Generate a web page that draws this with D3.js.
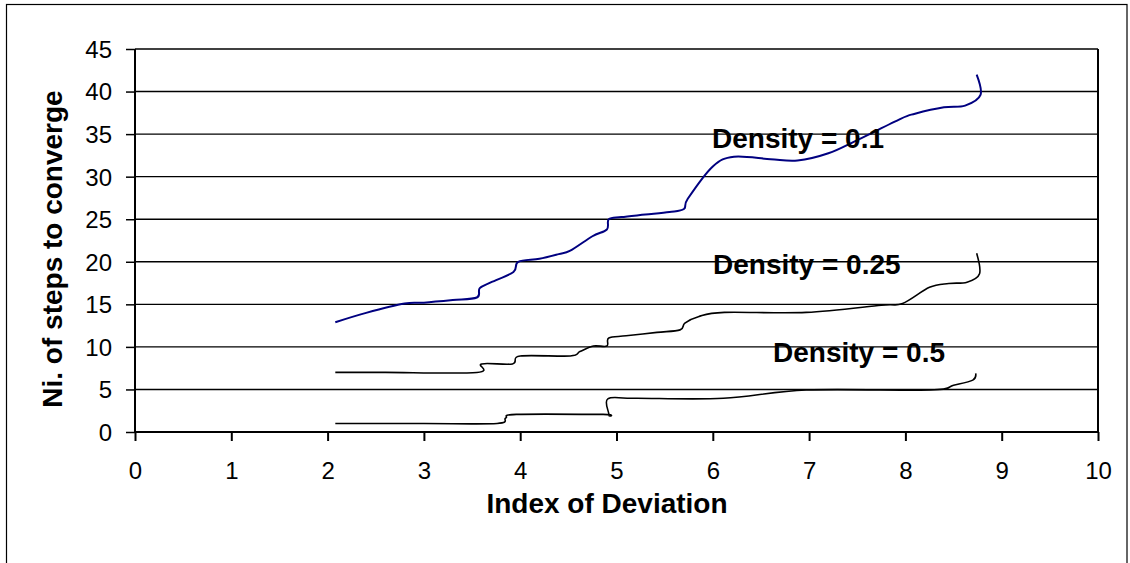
<!DOCTYPE html>
<html>
<head>
<meta charset="utf-8">
<script src="https://cdn.jsdelivr.net/npm/d3@7"></script>
<style>
  html, body { margin: 0; padding: 0; background: #fff; }
  svg { display: block; }
  text { font-family: "Liberation Sans", Arial, sans-serif; fill: #000; }
</style>
</head>
<body>
<svg id="chart" width="1130" height="563"></svg>
<script>
// ---- data ----
const xTicks = [0, 1, 2, 3, 4, 5, 6, 7, 8, 9, 10];
const yTicks = [0, 5, 10, 15, 20, 25, 30, 35, 40, 45];
const xTitle = "Index of Deviation";
const yTitle = "Ni. of steps to converge";
const seriesNames = ["Density = 0.1", "Density = 0.25", "Density = 0.5"];

const density01 = [
  [2.08, 12.9], [2.4, 14.0], [2.8, 15.1], [3.0, 15.2], [3.3, 15.5], [3.55, 15.8],
  [3.58, 16.9], [3.7, 17.6], [3.93, 18.8], [3.98, 20.0], [4.2, 20.35], [4.4, 20.9],
  [4.52, 21.3], [4.75, 23.0], [4.9, 23.8], [4.92, 25.0], [5.05, 25.25], [5.3, 25.55],
  [5.55, 25.85], [5.7, 26.2], [5.74, 27.4], [6.0, 31.2], [6.22, 32.35], [6.6, 32.05],
  [6.88, 31.9], [7.2, 32.75], [7.5, 34.3], [7.95, 36.8], [8.1, 37.4], [8.4, 38.15],
  [8.62, 38.35], [8.78, 39.6], [8.74, 42.0]
];
const density025 = [
  [2.08, 7.0], [2.6, 7.0], [3.55, 7.0], [3.6, 8.0], [3.92, 8.0], [4.0, 8.93],
  [4.52, 8.93], [4.62, 9.45], [4.76, 10.1], [4.9, 10.1], [4.92, 11.05], [5.1, 11.3],
  [5.42, 11.7], [5.66, 12.0], [5.71, 12.8], [5.85, 13.55], [6.12, 14.05], [6.97, 14.05],
  [7.75, 14.9], [7.97, 15.1], [8.25, 17.0], [8.45, 17.45], [8.64, 17.6], [8.77, 18.6],
  [8.74, 21.0]
];
const density05 = [
  [2.08, 1.0], [3.0, 1.0], [3.76, 1.0], [3.85, 1.65], [3.96, 2.07], [4.86, 2.07],
  [4.92, 2.0], [4.91, 3.9], [5.2, 3.96], [6.11, 3.96], [6.97, 4.93], [8.26, 4.93],
  [8.5, 5.5], [8.7, 6.1], [8.73, 6.9]
];

const labelPos = [[712, 148], [713, 274], [773, 362]]; // label anchor pixels (left, baseline)

// ---- layout ----
const svg = d3.select("#chart");
const plot = { left: 135, right: 1098, top: 49, bottom: 432 };

const x = d3.scaleLinear().domain([0, 10]).range([plot.left, plot.right]);
const y = d3.scaleLinear().domain([0, 45]).range([plot.bottom, plot.top]);

// outer frame
svg.append("rect")
  .attr("x", 6.5).attr("y", 4.5)
  .attr("width", 1127 - 6.5).attr("height", 570)
  .attr("fill", "none").attr("stroke", "#000").attr("stroke-width", 1.2);

// gridlines
svg.append("g").selectAll("line").data(yTicks).join("line")
  .attr("x1", plot.left).attr("x2", plot.right)
  .attr("y1", d => y(d)).attr("y2", d => y(d))
  .attr("stroke", "#000").attr("stroke-width", 1.4);

// plot area right border
svg.append("line")
  .attr("x1", plot.right).attr("x2", plot.right)
  .attr("y1", plot.top).attr("y2", plot.bottom)
  .attr("stroke", "#000").attr("stroke-width", 2);

// axes
const xAxis = d3.axisBottom(x).tickValues(xTicks).tickSize(9).tickPadding(22).tickFormat(d3.format("d"));
const gx = svg.append("g").attr("transform", `translate(0,${plot.bottom})`).call(xAxis);
gx.select(".domain").attr("stroke", "#000").attr("stroke-width", 2).attr("d", `M${plot.left},0H${plot.right}`);
gx.selectAll(".tick line").attr("stroke", "#000").attr("stroke-width", 2);
gx.selectAll(".tick text").attr("font-size", 24).attr("font-family", "Liberation Sans, Arial, sans-serif")
  .attr("dy", null).attr("y", 47).attr("fill", "#000");

const yAxis = d3.axisLeft(y).tickValues(yTicks).tickSize(9).tickPadding(14).tickFormat(d3.format("d"));
const gy = svg.append("g").attr("transform", `translate(${plot.left},0)`).call(yAxis);
gy.select(".domain").attr("stroke", "#000").attr("stroke-width", 2).attr("d", `M0,${plot.top}V${plot.bottom}`);
gy.selectAll(".tick line").attr("stroke", "#000").attr("stroke-width", 1.5);
gy.selectAll(".tick text").attr("font-size", 24).attr("font-family", "Liberation Sans, Arial, sans-serif")
  .attr("dy", "0.35em").attr("fill", "#000");

// series lines
const line = d3.line().x(d => x(d[0])).y(d => y(d[1])).curve(d3.curveCatmullRom.alpha(0));
const series = [
  { data: density01, color: "#000080", width: 2 },
  { data: density025, color: "#000000", width: 1.6 },
  { data: density05, color: "#000000", width: 1.6 }
];
svg.append("g").selectAll("path").data(series).join("path")
  .attr("d", d => line(d.data))
  .attr("fill", "none")
  .attr("stroke", d => d.color)
  .attr("stroke-width", d => d.width)
  .attr("stroke-linejoin", "round");

// series labels
svg.append("g").selectAll("text").data(seriesNames).join("text")
  .attr("x", (d, i) => labelPos[i][0]).attr("y", (d, i) => labelPos[i][1])
  .attr("font-size", 28).attr("font-weight", "bold")
  .text(d => d);

// axis titles
svg.append("text")
  .attr("x", 607).attr("y", 513)
  .attr("text-anchor", "middle")
  .attr("font-size", 28).attr("font-weight", "bold")
  .text(xTitle);

svg.append("text")
  .attr("transform", "translate(62,249) rotate(-90)")
  .attr("text-anchor", "middle")
  .attr("font-size", 28).attr("font-weight", "bold")
  .text(yTitle);
</script>
</body>
</html>
